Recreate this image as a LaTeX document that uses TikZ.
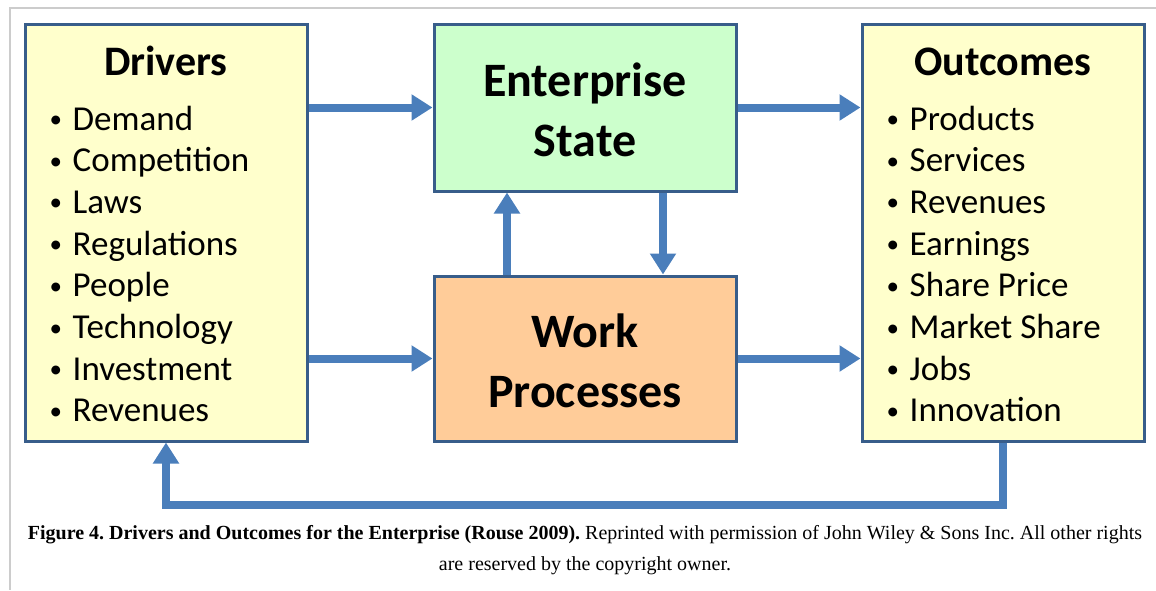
\documentclass[tikz,border=0pt]{standalone}
\usepackage{fontspec}
\setmainfont{Carlito}
\newfontfamily\capfont{Liberation Serif}
\usetikzlibrary{arrows.meta}
\definecolor{boxline}{HTML}{385D8A}
\definecolor{arrowblue}{HTML}{4A7EBB}
\definecolor{yellowfill}{HTML}{FFFFCC}
\definecolor{greenfill}{HTML}{CCFFCC}
\definecolor{peachfill}{HTML}{FFCC99}
\definecolor{framegray}{HTML}{CCCCCC}
\newcommand{\mybul}{\makebox[26pt][l]{\hspace{3pt}\raisebox{2.5pt}{\fontsize{25}{25}\selectfont\textbullet}}}
\tikzset{
  bigbox/.style={draw=boxline, line width=3pt, rectangle, inner sep=0pt},
  arr/.style={draw=arrowblue, line width=8pt, -{Triangle[width=25pt,length=21pt]}, line join=miter},
  ttl/.style={font=\fontsize{42}{46}\selectfont\bfseries, inner sep=0pt, anchor=base},
  midtxt/.style={font=\fontsize{48}{60}\selectfont\bfseries, inner sep=0pt, align=center},
  item/.style={font=\fontsize{35}{40}\selectfont, inner sep=0pt, anchor=base west},
  captxt/.style={font=\capfont\fontsize{20}{31}\selectfont\frenchspacing, inner sep=0pt, anchor=base}
}
\begin{document}
\begin{tikzpicture}[x=1pt,y=-1pt]
\useasboundingbox (0,0) rectangle (1156,590);
\draw[framegray, line width=1.5pt] (1156,8) -- (10,8) -- (10,590);
% boxes
\node[bigbox, fill=yellowfill, minimum width=282pt, minimum height=417pt] (drivers) at (166,232.5) {};
\node[bigbox, fill=greenfill, minimum width=302pt, minimum height=167pt] (es) at (585,107.5) {};
\node[bigbox, fill=peachfill, minimum width=302pt, minimum height=165pt] (wp) at (585,358.5) {};
\node[bigbox, fill=yellowfill, minimum width=282pt, minimum height=417pt] (outcomes) at (1003,232.5) {};
% titles
\node[ttl] (drvtitle) at (166,75) {Drivers};
\node[ttl] (outtitle) at (1003,75) {Outcomes};
\node[midtxt] (estext) at (585,110) {Enterprise\\State};
\node[midtxt] (wptext) at (585,361) {Work\\Processes};
% lists
\foreach \t [count=\i] in {Demand,Competition,Laws,Regulations,People,Technology,Investment,Revenues}
  \node[item] (d\i) at (46.5,{130+41.7*(\i-1)}) {\mybul\t};
\foreach \t [count=\i] in {Products,Services,Revenues,Earnings,Share Price,Market Share,Jobs,Innovation}
  \node[item] (o\i) at (883.5,{130+41.7*(\i-1)}) {\mybul\t};
% arrows
\draw[arr] (drivers.east |- es.west) -- (es.west);
\draw[arr] (es.east) -- (outcomes.west |- es.east);
\draw[arr] (drivers.east |- wp.west) -- (wp.west);
\draw[arr] (wp.east) -- (outcomes.west |- wp.east);
\draw[arr] ([xshift=-78pt]wp.north) -- ([xshift=-78pt]es.south);
\draw[arr] ([xshift=78pt]es.south) -- ([xshift=78pt]wp.north);
\coordinate (fb) at (0,505);
\draw[arr] (outcomes.south) -- (outcomes.south |- fb) -| (drivers.south);
% caption
\node[captxt] (cap1) at (585,539) {\textbf{Figure 4. Drivers and Outcomes for the Enterprise (Rouse 2009).} Reprinted with permission of John Wiley \& Sons Inc. All other rights};
\node[captxt] (cap2) at (585,570) {are reserved by the copyright owner.};
\end{tikzpicture}
\end{document}
